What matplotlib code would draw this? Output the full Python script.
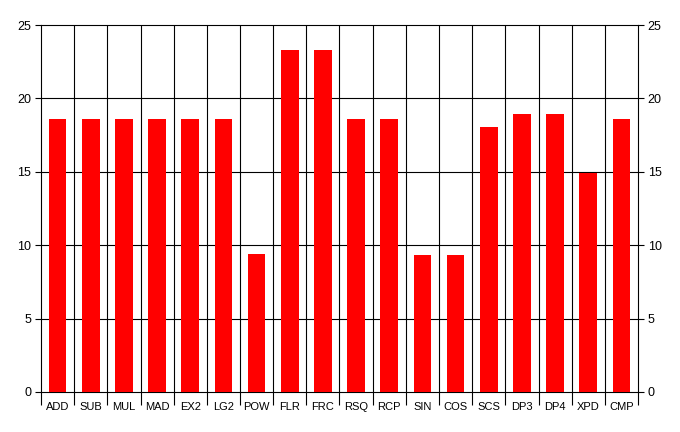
import numpy as np
import matplotlib.pyplot as plt

plt.rcParams['font.family'] = ['Liberation Sans', 'DejaVu Sans']

# instruction names and values
ops = ['ADD', 'SUB', 'MUL', 'MAD', 'EX2', 'LG2', 'POW', 'FLR', 'FRC',
       'RSQ', 'RCP', 'SIN', 'COS', 'SCS', 'DP3', 'DP4', 'XPD', 'CMP']
values = [18.6, 18.6, 18.6, 18.6, 18.6, 18.6, 9.4, 23.3, 23.3,
          18.6, 18.6, 9.33, 9.33, 18.05, 18.95, 18.95, 14.95, 18.6]
yticks = [0, 5, 10, 15, 20, 25]

fig = plt.figure(figsize=(6.8, 4.32), dpi=100)
ax = fig.add_axes([41 / 680, 40 / 432, 597 / 680, 367 / 432])

x = np.arange(len(ops))
ax.bar(x, values, width=0.53, color='#ff0000', zorder=3)

ax.set_xlim(-0.5, len(ops) - 0.5)
ax.set_ylim(0, 25)

# boundaries between categories
bounds = np.arange(len(ops) + 1) - 0.5
ax.set_xticks(bounds)
ax.set_xticklabels([])
ax.tick_params(axis='x', which='major', length=9, width=0.8, color='black')
ax.set_xticks(x, minor=True)
ax.set_xticklabels(ops, minor=True)
ax.tick_params(axis='x', which='minor', length=0, pad=7, labelsize=8)

ax.set_yticks(yticks)
ax.tick_params(axis='y', which='major', length=4, width=0.8, labelsize=9,
               left=True, right=True, labelleft=True, labelright=True, pad=3)

for b in bounds[1:-1]:
    ax.axvline(b, color='black', lw=0.8, zorder=1)
for t in yticks[1:-1]:
    ax.axhline(t, color='black', lw=0.8, zorder=1)

for s in ax.spines.values():
    s.set_color('black')
    s.set_linewidth(0.8)

fig.savefig('out.png', dpi=100)
